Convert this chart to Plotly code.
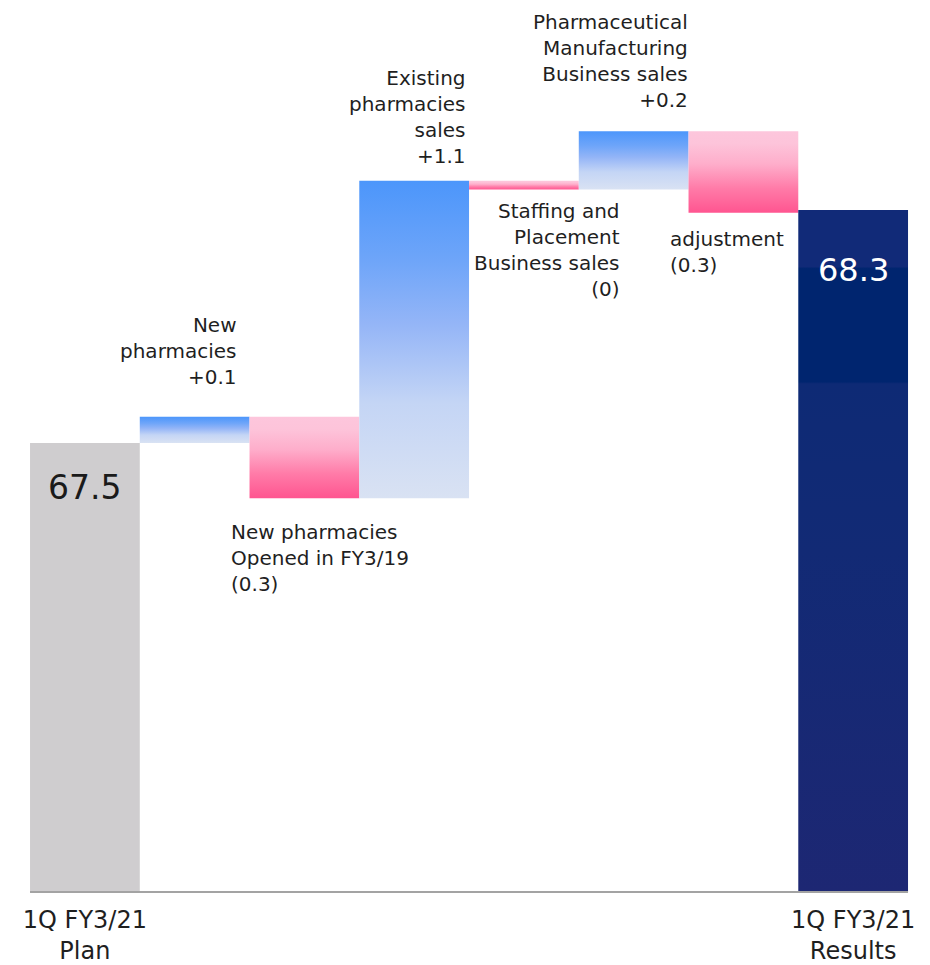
import plotly.graph_objects as go

# ---------------- data ----------------
categories = [
    "1Q FY3/21<br>Plan",
    "New pharmacies",
    "New pharmacies Opened in FY3/19",
    "Existing pharmacies sales",
    "Staffing and Placement Business sales",
    "Pharmaceutical Manufacturing Business sales",
    "adjustment",
    "1Q FY3/21<br>Results",
]
plan_value = 67.5
result_value = 68.3
deltas = [0.09, -0.28, 1.09, -0.03, 0.20, -0.28]
delta_labels = [
    "New<br>pharmacies<br>+0.1",
    "New pharmacies<br>Opened in FY3/19<br>(0.3)",
    "Existing<br>pharmacies<br>sales<br>+1.1",
    "Staffing and<br>Placement<br>Business sales<br>(0)",
    "Pharmaceutical<br>Manufacturing<br>Business sales<br>+0.2",
    "adjustment<br>(0.3)",
]
axis_floor = 65.958

# ---------------- styles ----------------
FONT = "DejaVu Sans"
TXT = "#1f1f1f"
plan_color = "#cfcdcf"
blue_scale = [[0.0, "#d9e2f3"], [0.3, "#c4d5f5"], [0.55, "#94b5f7"], [0.75, "#6ea5f9"], [1.0, "#4c96fb"]]
pink_scale = [[0.0, "#ff5590"], [0.3, "#ff7ba8"], [0.6, "#feaecb"], [0.85, "#fdc4da"], [1.0, "#fdc6dc"]]
navy_scale = [[0.0, "#1d2773"], [0.5, "#122a75"], [0.745, "#0e2a75"], [0.748, "#00256f"],
              [0.914, "#00256f"], [0.917, "#112a78"], [1.0, "#112a78"]]

# per-label placement: (edge offset, xanchor, align, xshift, yshift)
label_style = [
    (0.5, "right", "right", -11, 26),
    (-0.5, "left", "left", -21, -20),
    (0.5, "right", "right", -1, 11),
    (0.5, "right", "right", 43, -7),
    (0.5, "right", "right", 1, 17),
    (-0.5, "left", "left", -21, -12),
]

fig = go.Figure()


def add_rect(i, lo, hi, color=None, scale=None):
    xs = [i - 0.5, i + 0.5, i + 0.5, i - 0.5, i - 0.5]
    ys = [lo, lo, hi, hi, lo]
    kw = dict(x=xs, y=ys, mode="lines", fill="toself", line=dict(width=0),
              hoverinfo="skip", showlegend=False)
    if scale is not None:
        kw["fillgradient"] = dict(type="vertical", colorscale=scale, start=lo, stop=hi)
    else:
        kw["fillcolor"] = color
    fig.add_trace(go.Scatter(**kw))


# plan bar
add_rect(0, axis_floor, plan_value, color=plan_color)

# deltas
level = plan_value
annotations = []
for k, d in enumerate(deltas):
    i = k + 1
    lo, hi = sorted([level, level + d])
    add_rect(i, lo, hi, scale=blue_scale if d > 0 else pink_scale)
    edge, xa, al, xs, ys = label_style[k]
    annotations.append(dict(
        x=i + edge, y=hi if d > 0 else lo, text=delta_labels[k],
        xanchor=xa, yanchor="bottom" if d > 0 else "top", align=al,
        xshift=xs, yshift=ys, showarrow=False,
        font=dict(family=FONT, size=20, color=TXT)))
    level += d

# results bar
n = len(categories) - 1
add_rect(n, axis_floor, result_value, scale=navy_scale)

annotations.append(dict(x=0, y=plan_value, text=f"{plan_value}", showarrow=False,
                        yanchor="middle", yshift=-45,
                        font=dict(family=FONT, size=33, color="#1a1a1a")))
annotations.append(dict(x=n, y=result_value, text=f"{result_value}", showarrow=False,
                        yanchor="middle", yshift=-60,
                        font=dict(family=FONT, size=32, color="white")))

fig.add_shape(type="line", x0=-0.5, x1=n + 0.5, y0=axis_floor, y1=axis_floor,
              line=dict(color="#a3a3a3", width=2), layer="above")

px_per_unit = 291.25
fig.update_layout(
    width=930, height=965,
    margin=dict(l=0, r=0, t=0, b=70, autoexpand=False),
    paper_bgcolor="white", plot_bgcolor="white",
    annotations=annotations,
    xaxis=dict(range=[-84.9 / 109.75, (930 - 84.9) / 109.75], showgrid=False, zeroline=False,
               showline=False, tickvals=[0, n], ticktext=[categories[0], categories[n]],
               tickfont=dict(family=FONT, size=24, color=TXT), ticks="",
               ticklabelstandoff=8, automargin=False, fixedrange=True),
    yaxis=dict(range=[axis_floor - 3 / px_per_unit, axis_floor + 892 / px_per_unit],
               showgrid=False, zeroline=False, showline=False, showticklabels=False,
               automargin=False, fixedrange=True),
)

fig.write_html("out.html")
